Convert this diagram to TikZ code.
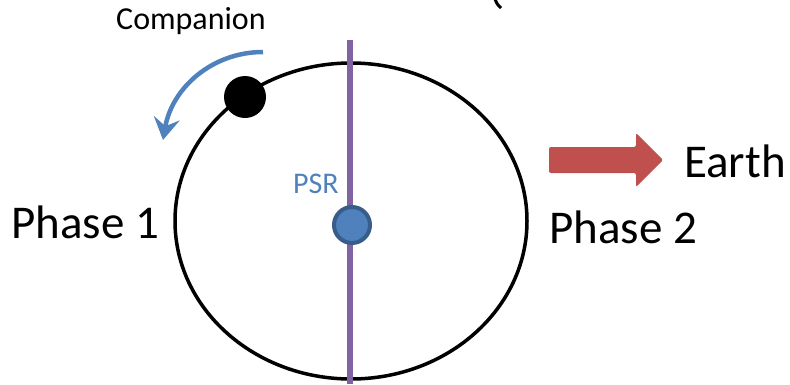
\documentclass[tikz,border=0pt]{standalone}
\usepackage{fontspec}
\setmainfont{Carlito}
\usetikzlibrary{arrows.meta}
\definecolor{accblue}{HTML}{4F81BD}
\definecolor{darkblue}{HTML}{385D8A}
\definecolor{accpurple}{HTML}{8064A2}
\definecolor{accred}{HTML}{C0504D}
\tikzset{
  orbit/.style={draw=black, line width=3.5pt},
  axisline/.style={draw=accpurple, line width=5.5pt},
  body/.style={circle, inner sep=0pt, minimum size=#1},
  lbl/.style={anchor=base west, inner sep=0pt, text=black},
}
\begin{document}
\begin{tikzpicture}[x=1pt,y=-1pt]
\useasboundingbox (0,0) rectangle (790,384);
% orbit
\draw[orbit] (351,221) ellipse [x radius=176, y radius=158];
% axis line
\coordinate (axtop) at (350,40);
\coordinate (axbot) at (350,384);
\draw[axisline] (axtop) -- (axbot);
% companion
\node[body=42pt, fill=black] (comp) at (245,97) {};
% pulsar
\node[body=36pt, fill=accblue, draw=darkblue, line width=4pt] (psr) at (352,225) {};
% rotation arrow
\coordinate (rotstart) at (263,52);
\coordinate (rotend) at (163,140);
\draw[accblue, line width=4.5pt, -{Stealth[length=22pt,width=26pt,inset=8pt]}]
  (rotstart) .. controls (212,52) and (172,88) .. (rotend);
% Earth arrow
\fill[accred, rounded corners=2pt] (549,147) -- (636,147) -- (636,133) -- (663,160) -- (636,187) -- (636,173) -- (549,173) -- cycle;
% partial glyph at top
\draw[black, line width=3pt] (495,-1) .. controls (497,4) .. (501,8);
% labels
\node[lbl, font=\fontsize{32}{34}\selectfont] (companion) at (116,29) {Companion};
\node[lbl, font=\fontsize{30}{32}\selectfont, text=accblue] (psrlbl) at (293,193) {PSR};
\node[lbl, font=\fontsize{47}{50}\selectfont] (phase1) at (11,238) {Phase 1};
\node[lbl, font=\fontsize{47}{50}\selectfont] (phase2) at (549,243) {Phase 2};
\node[lbl, font=\fontsize{47}{50}\selectfont] (earth) at (684,177) {Earth};
\end{tikzpicture}
\end{document}
